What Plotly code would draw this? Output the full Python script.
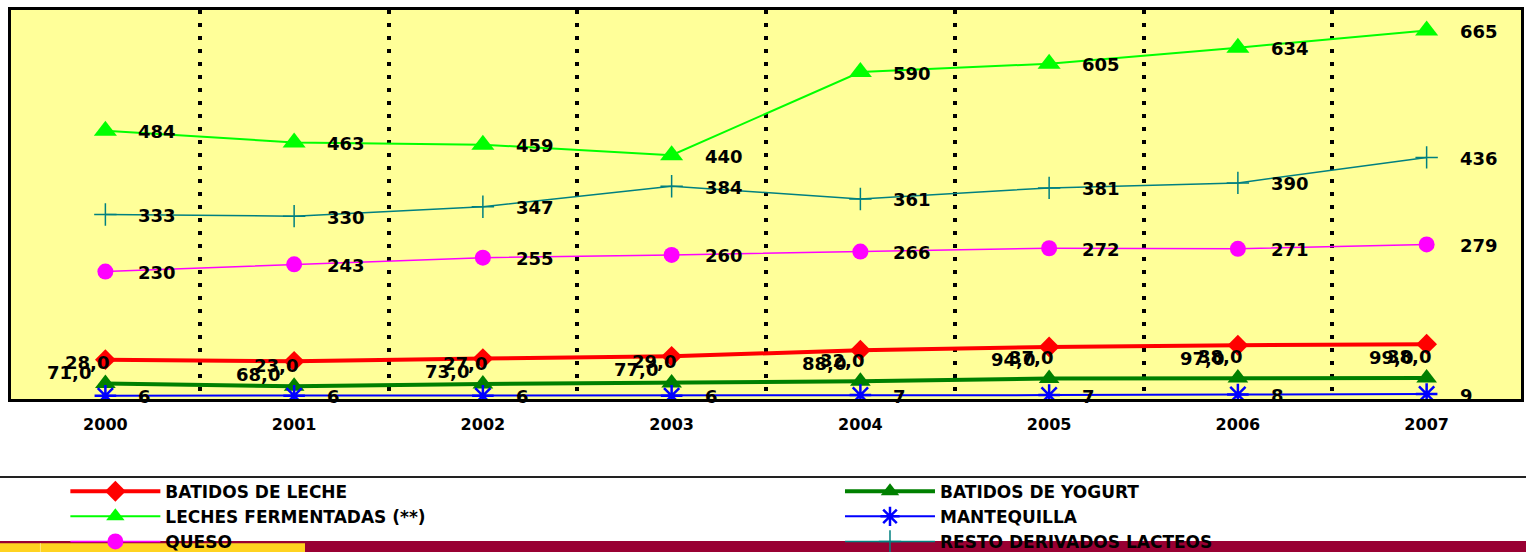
import plotly.graph_objects as go

years = ["2000", "2001", "2002", "2003", "2004", "2005", "2006", "2007"]

batidos_leche = [71, 68, 73, 77, 88, 94, 97, 99]
batidos_yogurt = [28, 23, 27, 29, 32, 37, 38, 38]
leches_fermentadas = [484, 463, 459, 440, 590, 605, 634, 665]
mantequilla = [6, 6, 6, 6, 7, 7, 8, 9]
queso = [230, 243, 255, 260, 266, 272, 271, 279]
resto = [333, 330, 347, 384, 361, 381, 390, 436]

names = ["BATIDOS DE LECHE", "BATIDOS DE YOGURT", "LECHES FERMENTADAS (**)",
         "MANTEQUILLA", "QUESO", "RESTO DERIVADOS LACTEOS"]

FONT = "DejaVu Sans"

fig = go.Figure()

fig.add_trace(go.Scatter(x=years, y=batidos_leche, name=names[0], mode="lines+markers",
                         legend="legend",
                         line=dict(color="#FF0000", width=4),
                         marker=dict(symbol="diamond", size=16, color="#FF0000")))
fig.add_trace(go.Scatter(x=years, y=batidos_yogurt, name=names[1], mode="lines+markers",
                         legend="legend2",
                         line=dict(color="#008000", width=4),
                         marker=dict(symbol="triangle-up", size=18, color="#008000")))
fig.add_trace(go.Scatter(x=years, y=leches_fermentadas, name=names[2], mode="lines+markers",
                         legend="legend",
                         line=dict(color="#00FF00", width=2),
                         marker=dict(symbol="triangle-up", size=20, color="#00FF00")))
fig.add_trace(go.Scatter(x=years, y=mantequilla, name=names[3], mode="lines+markers",
                         legend="legend2",
                         line=dict(color="#0000FF", width=2),
                         marker=dict(symbol="asterisk-open", size=18,
                                     line=dict(color="#0000FF", width=2.5))))
fig.add_trace(go.Scatter(x=years, y=queso, name=names[4], mode="lines+markers",
                         legend="legend",
                         line=dict(color="#FF00FF", width=1.5),
                         marker=dict(symbol="circle", size=16, color="#FF00FF")))
fig.add_trace(go.Scatter(x=years, y=resto, name=names[5], mode="lines+markers",
                         legend="legend2",
                         line=dict(color="#008080", width=1.5),
                         marker=dict(symbol="cross-thin-open", size=16,
                                     line=dict(color="#008080", width=1.5))))

lab_font = dict(family=FONT, size=18, color="black", weight="bold")
annotations = []
# labels to the right of the points
for series in [leches_fermentadas, resto, queso, mantequilla]:
    for i, v in enumerate(series):
        annotations.append(dict(x=i, y=v, xref="x", yref="y", text=str(v), showarrow=False,
                                xanchor="left", yanchor="middle", xshift=31, yshift=-1,
                                font=lab_font))
# batidos de leche labels (below-left)
for i, v in enumerate(batidos_leche):
    annotations.append(dict(x=i, y=v, xref="x", yref="y", text=f"{v},0", showarrow=False,
                            xanchor="center", yanchor="middle", xshift=-36, yshift=-13,
                            font=lab_font))
# batidos de yogurt labels (above)
for i, v in enumerate(batidos_yogurt):
    annotations.append(dict(x=i, y=v, xref="x", yref="y", text=f"{v},0", showarrow=False,
                            xanchor="center", yanchor="middle", xshift=-18, yshift=21,
                            font=lab_font))

shapes = [
    # separator line above legend
    dict(type="line", xref="paper", yref="paper", x0=-0.01, x1=1.01, y0=-0.2005, y1=-0.2005,
         line=dict(color="#222222", width=2)),
    # bottom decorative band
    dict(type="rect", xref="paper", yref="paper", x0=-0.01, x1=1.01, y0=-0.365, y1=-0.40,
         fillcolor="#990033", line=dict(width=0), layer="below"),
    dict(type="rect", xref="paper", yref="paper", x0=-0.01, x1=0.1947, y0=-0.371, y1=-0.40,
         fillcolor="#FFD320", line=dict(width=0), layer="below"),
    dict(type="line", xref="paper", yref="paper", x0=0.0195, x1=0.0195, y0=-0.371, y1=-0.40,
         line=dict(color="#FFE680", width=1)),
]

leg_font = dict(family=FONT, size=17, color="black", weight="bold")
fig.update_layout(
    width=1526, height=552,
    margin=dict(l=11, r=5, t=10, b=153, autoexpand=False),
    paper_bgcolor="white",
    plot_bgcolor="#FFFF99",
    showlegend=True,
    hovermode=False,
    legend=dict(orientation="v", x=0.036, y=-0.192, xanchor="left", yanchor="top",
                itemwidth=90, font=leg_font, bgcolor="rgba(0,0,0,0)",
                tracegroupgap=0),
    legend2=dict(orientation="v", x=0.549, y=-0.192, xanchor="left", yanchor="top",
                 itemwidth=90, font=leg_font, bgcolor="rgba(0,0,0,0)",
                 tracegroupgap=0),
    annotations=annotations,
    shapes=shapes,
)

fig.update_xaxes(type="category", range=[-0.5, 7.5], tickson="boundaries",
                 showgrid=True, gridcolor="black", gridwidth=4, griddash="4px,9px",
                 showline=True, linecolor="black", linewidth=3, mirror=True,
                 ticks="", ticklabelstandoff=9,
                 tickfont=dict(family=FONT, size=16, color="black", weight="bold"),
                 zeroline=False)
fig.update_yaxes(range=[0, 702], showgrid=False, showticklabels=False, zeroline=False,
                 showline=True, linecolor="black", linewidth=3, mirror=True, ticks="")

fig.write_html("out.html", config={"displayModeBar": False},
               post_script="document.body.style.margin='0px';")
